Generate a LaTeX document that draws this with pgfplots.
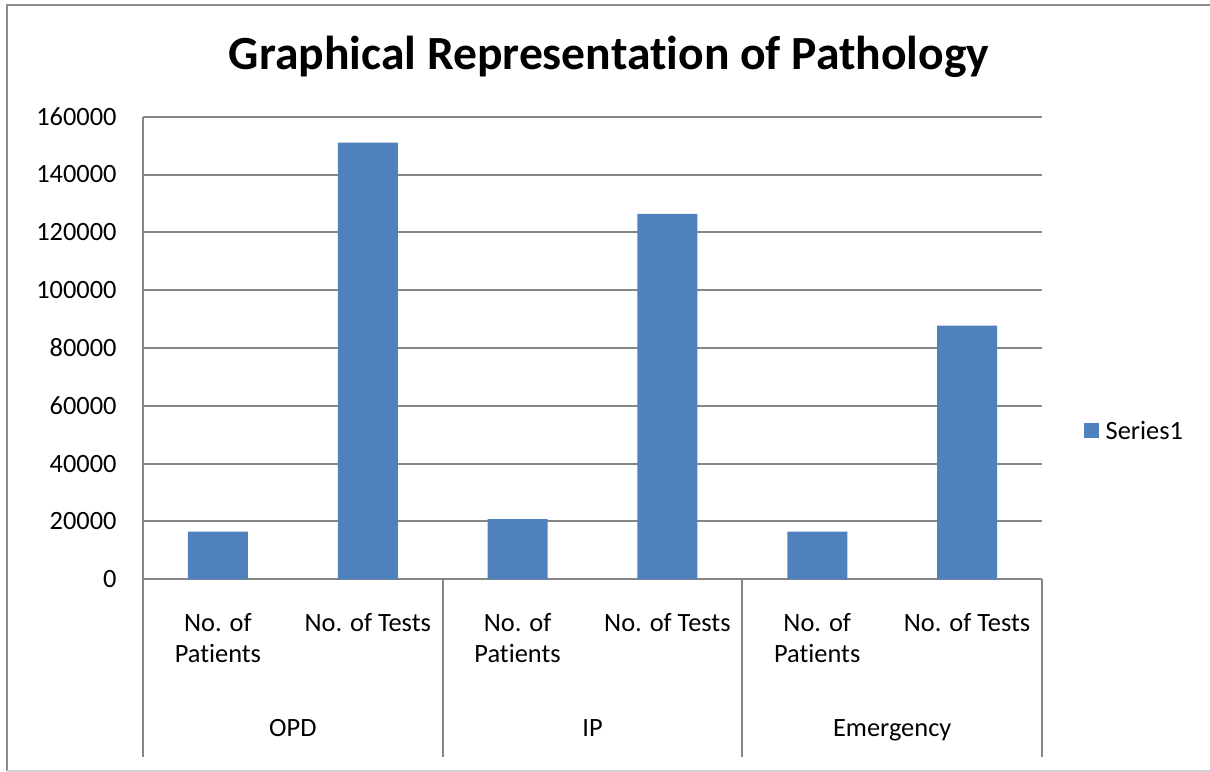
\documentclass[border=0pt]{standalone}
\usepackage{fontspec}
\setmainfont{Carlito}[Ligatures=NoCommon]
\usepackage{pgfplots}
\pgfplotsset{compat=1.18}
\definecolor{barblue}{HTML}{4F81BD}
\definecolor{gridgray}{HTML}{868686}
\definecolor{framegray}{HTML}{8C8C8C}
\definecolor{framelight}{HTML}{D0D0D0}

\begin{document}
\begin{tikzpicture}
\fontsize{13.2bp}{16bp}\selectfont
\useasboundingbox (0,0) rectangle (605bp,386bp);
% outer chart frame (right edge lies outside the picture)
\draw[framegray, line width=1.2bp] (3.5bp,0.5bp) -- (3.5bp,383.5bp) -- (606bp,383.5bp);
\draw[framelight, line width=1bp] (3.5bp,0.5bp) -- (606bp,0.5bp);
\node[font=\fontsize{23.8bp}{28bp}\selectfont\bfseries, anchor=base, inner sep=0pt] at (304.5bp,351bp) {Graphical Representation of Pathology};
\begin{axis}[
  at={(71.5bp,96.35bp)}, anchor=south west,
  scale only axis, width=449.5bp, height=231.3bp,
  ybar, bar width=30bp,
  xmin=0.5, xmax=6.5, ymin=0, ymax=160000,
  xtick=\empty,
  scaled y ticks=false,
  ytick={0,20000,40000,60000,80000,100000,120000,140000,160000},
  yticklabels={0,20000,40000,60000,80000,100000,120000,140000,160000},
  yticklabel style={anchor=east, inner sep=0pt, xshift=-13bp, font=\fontsize{13.2bp}{16bp}\selectfont},
  ymajorgrids, grid style={gridgray, line width=1bp},
  major tick length=0pt,
  axis x line*=bottom, axis y line*=left,
  axis line style={gridgray, line width=1bp, -},
  clip=false,
  legend style={draw=none, fill=none, at={(1,0.3048)}, anchor=south west, xshift=21bp, yshift=-2.5bp,
    inner sep=0pt, outer sep=0pt, font=\fontsize{13.2bp}{16bp}\selectfont,
    nodes={inner sep=0pt},
    /tikz/every odd column/.append style={column sep=3.35bp}},
]
\addplot[fill=barblue, draw=none,
  legend image code/.code={\fill[barblue] (0bp,-2.7bp) rectangle (7.5bp,4.8bp);}]
  coordinates {(1,16500) (2,151000) (3,20800) (4,126400) (5,16500) (6,87700)};
\addlegendentry{Series1}

% two-level category labels
\pgfplotsinvokeforeach{1,3,5}{
  \node[anchor=base] at ([yshift=-25.85bp]axis cs:#1,0) {No. of};
  \node[anchor=base] at ([yshift=-41.7bp]axis cs:#1,0) {Patients};
}
\pgfplotsinvokeforeach{2,4,6}{
  \node[anchor=base] at ([yshift=-25.85bp]axis cs:#1,0) {No. of Tests};
}
\node[anchor=base] at ([yshift=-78.35bp]axis cs:1.5,0) {OPD};
\node[anchor=base] at ([yshift=-78.35bp]axis cs:3.5,0) {IP};
\node[anchor=base] at ([yshift=-78.35bp]axis cs:5.5,0) {Emergency};
\pgfplotsinvokeforeach{0.5,2.5,4.5,6.5}{
  \draw[gridgray, line width=1bp] (axis cs:#1,0) -- ([yshift=-89bp]axis cs:#1,0);
}
\end{axis}
\end{tikzpicture}
\end{document}
